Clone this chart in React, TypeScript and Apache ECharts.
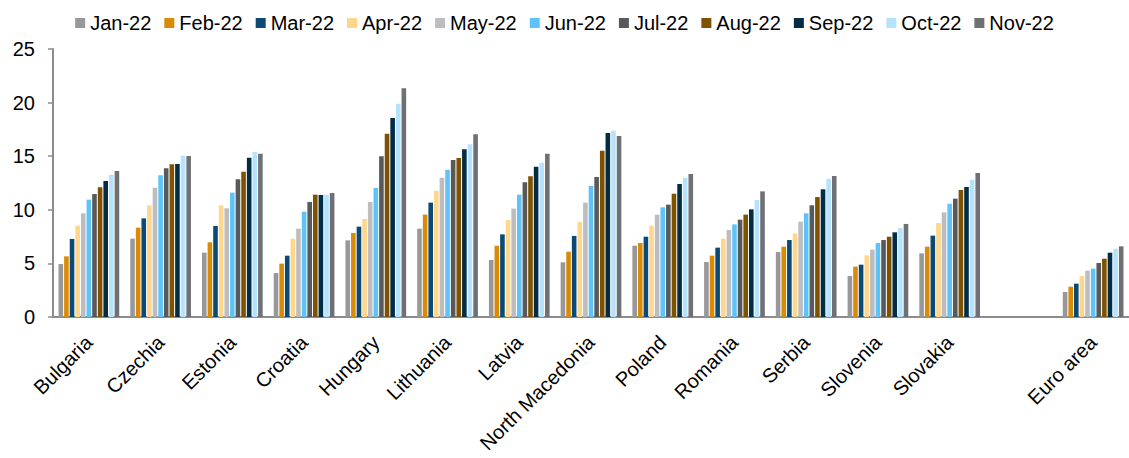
import React, { useEffect, useRef } from "react";
import * as echarts from "echarts";

const countries = [
  "Bulgaria", "Czechia", "Estonia", "Croatia", "Hungary", "Lithuania", "Latvia",
  "North Macedonia", "Poland", "Romania", "Serbia", "Slovenia", "Slovakia", "", "Euro area",
];

const months = [
  "Jan-22", "Feb-22", "Mar-22", "Apr-22", "May-22", "Jun-22",
  "Jul-22", "Aug-22", "Sep-22", "Oct-22", "Nov-22",
];

const monthColors = [
  "#98989b", "#d98a07", "#0b4a75", "#ffd68c", "#bdbdc0", "#5ec3f8",
  "#58595b", "#7f5200", "#032c45", "#b5e3fd", "#6f7074",
];

// Values per country, Jan..Nov
const bulgaria = [4.94, 5.66, 7.28, 8.52, 9.67, 10.95, 11.47, 12.1, 12.69, 13.28, 13.62];
const czechia = [7.31, 8.33, 9.2, 10.42, 12.06, 13.22, 13.87, 14.24, 14.27, 15.05, 15.02];
const estonia = [6.0, 6.97, 8.49, 10.42, 10.14, 11.6, 12.84, 13.56, 14.86, 15.39, 15.24];
const croatia = [4.1, 4.98, 5.72, 7.31, 8.24, 9.83, 10.73, 11.41, 11.38, 11.41, 11.57];
const hungary = [7.15, 7.84, 8.43, 9.14, 10.73, 12.03, 14.99, 17.1, 18.56, 19.9, 21.33];
const lithuania = [8.24, 9.55, 10.67, 11.78, 13.0, 13.74, 14.65, 14.83, 15.64, 16.11, 17.04];
const latvia = [5.32, 6.65, 7.71, 9.05, 10.11, 11.41, 12.56, 13.12, 14.02, 14.4, 15.24];
const northMacedonia = [5.1, 6.09, 7.56, 8.86, 10.67, 12.22, 13.06, 15.52, 17.16, 17.38, 16.88];
const poland = [6.65, 6.9, 7.49, 8.52, 9.55, 10.23, 10.48, 11.5, 12.41, 13.0, 13.34];
const romania = [5.13, 5.72, 6.47, 7.31, 8.12, 8.64, 9.08, 9.55, 10.04, 10.91, 11.72];
const serbia = [6.06, 6.56, 7.18, 7.8, 8.89, 9.67, 10.42, 11.19, 11.91, 12.9, 13.15];
const slovenia = [3.82, 4.7, 4.88, 5.75, 6.28, 6.9, 7.18, 7.49, 7.9, 8.3, 8.68];
const slovakia = [5.94, 6.56, 7.59, 8.77, 9.76, 10.57, 11.04, 11.85, 12.13, 12.81, 13.43];
const euroArea = [2.33, 2.83, 3.11, 3.82, 4.32, 4.51, 5.04, 5.44, 6.0, 6.37, 6.59];

const yTicks = [0, 5, 10, 15, 20, 25];

const rows: (number[] | null)[] = [
  bulgaria, czechia, estonia, croatia, hungary, lithuania, latvia,
  northMacedonia, poland, romania, serbia, slovenia, slovakia, null, euroArea,
];

export default function App() {
  const ref = useRef<HTMLDivElement>(null);

  useEffect(() => {
    if (!ref.current) return;
    const chart = echarts.init(ref.current, undefined, { renderer: "svg" });
    const font = "'Liberation Sans', Arial, sans-serif";

    const series = months.map((m, i) => ({
      name: m,
      type: "bar" as const,
      barWidth: 4.6,
      barGap: "22%",
      itemStyle: { color: monthColors[i] },
      data: rows.map((r) => (r ? r[i] : null)),
    }));

    chart.setOption({
      animation: false,
      textStyle: { fontFamily: font },
      legend: {
        top: 8,
        left: "center",
        itemWidth: 10,
        itemHeight: 10,
        itemGap: 13,
        icon: "rect",
        textStyle: { fontSize: 20, color: "#000", fontFamily: font },
        data: months,
      },
      grid: { left: 53, top: 49, width: 1083, height: 268, containLabel: false },
      xAxis: {
        type: "category",
        data: countries,
        axisLine: { lineStyle: { color: "#8c8c8c", width: 2 } },
        axisTick: { show: false },
        axisLabel: {
          rotate: 45,
          interval: 0,
          margin: 22,
          fontSize: 20,
          color: "#000",
          fontFamily: font,
        },
      },
      yAxis: {
        type: "value",
        min: yTicks[0],
        max: yTicks[yTicks.length - 1],
        interval: 5,
        splitLine: { show: false },
        axisLine: { show: true, lineStyle: { color: "#8c8c8c", width: 2 } },
        axisTick: { show: true, length: 5, lineStyle: { color: "#8c8c8c", width: 1.5 } },
        axisLabel: { fontSize: 20, color: "#000", margin: 18, fontFamily: font },
      },
      series,
    });

    return () => chart.dispose();
  }, []);

  return (
    <div
      ref={ref}
      style={{ position: "fixed", left: 0, top: 0, width: 1129, height: 458, background: "#fff" }}
    />
  );
}
